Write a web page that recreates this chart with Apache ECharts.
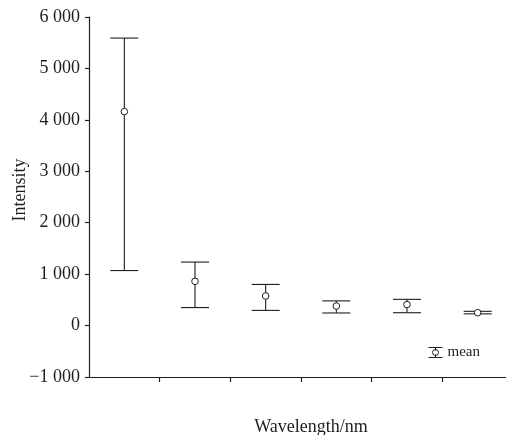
<!DOCTYPE html>
<html>
<head>
<meta charset="utf-8">
<script src="https://cdn.jsdelivr.net/npm/echarts@6/dist/echarts.min.js"></script>
<style>html,body{margin:0;padding:0;background:#fff;}#c{width:506px;height:435px;}</style>
</head>
<body>
<div id="c"></div>
<script>
var categories = ['1', '2', '3', '4', '5', '6'];
var means = [4160, 860, 575, 380, 410, 250];
var lows = [1070, 350, 295, 245, 250, 228];
var highs = [5590, 1235, 800, 480, 510, 277];
var yTicks = { min: -1000, max: 6000, interval: 1000 };

var ink = '#1e1e1e';
var font = '"Liberation Serif", "Times New Roman", serif';

var data = categories.map(function (c, i) { return [i, lows[i], highs[i], means[i]]; });

function fmt(v) {
  var s = Math.abs(v).toString().replace(/\B(?=(\d{3})+(?!\d))/g, ' ');
  return (v < 0 ? '\u2212' : '') + s;
}

var chart = echarts.init(document.getElementById('c'));
chart.setOption({
  animation: false,
  backgroundColor: '#fff',
  grid: { left: 89, top: 17, bottom: 58, right: -7, containLabel: false, outerBoundsMode: 'none' },
  legend: {
    left: 423, top: 340,
    itemWidth: 14, itemHeight: 10,
    textStyle: { fontFamily: font, fontSize: 15, color: ink },
    data: [{
      name: 'mean',
      icon: 'path://M0,0 H14 M7,0 V3 M7,7 V10 M0,10 H14 M4,5 A3,3 0 1,0 10,5 A3,3 0 1,0 4,5 Z',
      itemStyle: { color: '#fff', borderColor: ink, borderWidth: 1 }
    }]
  },
  xAxis: {
    type: 'category',
    data: categories,
    boundaryGap: true,
    name: 'Wavelength/nm',
    nameLocation: 'middle',
    nameGap: 41,
    nameMoveOverlap: false,
    nameTextStyle: { fontFamily: font, fontSize: 18, color: ink, padding: [0, 0, 0, 20] },
    axisLine: { onZero: false, lineStyle: { color: ink, width: 1.2 } },
    axisTick: { show: true, length: 5, interval: function (i) { return i > 0; }, lineStyle: { color: ink, width: 1.2 } },
    axisLabel: { show: false },
    splitLine: { show: false }
  },
  yAxis: {
    type: 'value',
    min: yTicks.min, max: yTicks.max, interval: yTicks.interval,
    name: 'Intensity',
    nameLocation: 'middle',
    nameGap: 60,
    nameMoveOverlap: false,
    nameTextStyle: { fontFamily: font, fontSize: 18, color: ink, padding: [0, 0, 0, 14] },
    axisLine: { show: true, lineStyle: { color: ink, width: 1.2 } },
    axisTick: { show: true, length: 4, lineStyle: { color: ink, width: 1.2 } },
    axisLabel: { fontFamily: font, fontSize: 18, color: ink, margin: 9, formatter: fmt },
    splitLine: { show: false }
  },
  series: [{
    name: 'mean',
    type: 'custom',
    data: data,
    encode: { x: 0, y: [1, 2, 3] },
    renderItem: function (params, api) {
      var x = api.value(0);
      var lo = api.coord([x, api.value(1)]);
      var hi = api.coord([x, api.value(2)]);
      var m = api.coord([x, api.value(3)]);
      var hw = 14;
      var st = { stroke: ink, lineWidth: 1.1, fill: null };
      return {
        type: 'group',
        children: [
          { type: 'line', shape: { x1: lo[0], y1: lo[1], x2: hi[0], y2: hi[1] }, style: st },
          { type: 'line', shape: { x1: lo[0] - hw, y1: lo[1], x2: lo[0] + hw, y2: lo[1] }, style: st },
          { type: 'line', shape: { x1: hi[0] - hw, y1: hi[1], x2: hi[0] + hw, y2: hi[1] }, style: st },
          { type: 'circle', shape: { cx: m[0], cy: m[1], r: 3.3 }, style: { fill: '#fff', stroke: ink, lineWidth: 1 } }
        ]
      };
    }
  }]
});
</script>
</body>
</html>
